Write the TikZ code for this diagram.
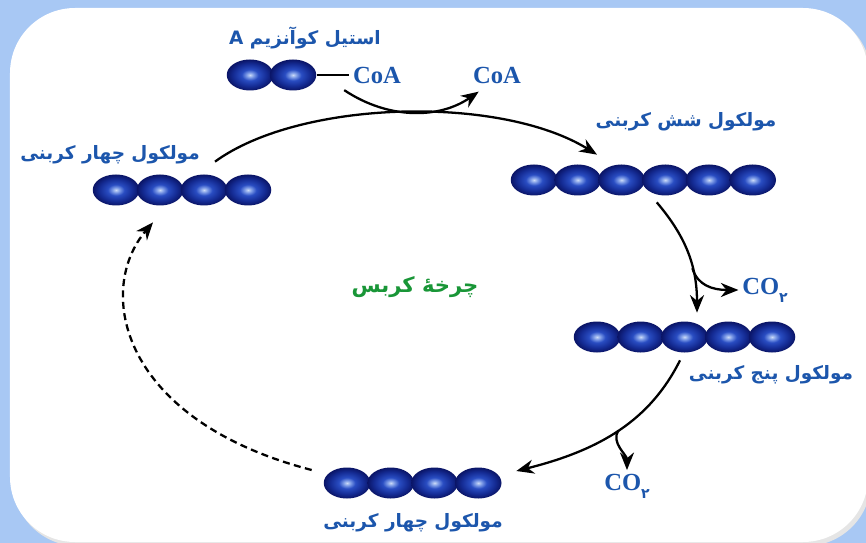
\documentclass[tikz,border=0pt]{standalone}
\usepackage{fontspec}
\usepackage{xcolor}
\usepackage{tikz}
\usetikzlibrary{shapes.geometric, arrows.meta}
\TeXXeTstate=1
\newfontfamily\fafont[Script=Arabic]{DejaVu Sans}
\newfontfamily\lsfont{Liberation Serif}

\definecolor{bgblue}{RGB}{168,200,244}
\definecolor{lblblue}{RGB}{28,86,172}
\definecolor{lblgreen}{RGB}{25,150,55}

\pgfdeclareradialshading{atomball}{\pgfpoint{0bp}{0bp}}{%
    rgb(0bp)=(0.80,0.86,0.97); rgb(4bp)=(0.48,0.60,0.90);
    rgb(9bp)=(0.16,0.30,0.76); rgb(18bp)=(0.08,0.17,0.58);
    rgb(25bp)=(0.04,0.08,0.40); rgb(50bp)=(0.04,0.08,0.40)}

\newcommand{\cotwo}{CO\raisebox{-0.7ex}{\fafont\bfseries\fontsize{8}{8}\selectfont ۲}}

\begin{document}
\begin{tikzpicture}[
    atom/.style = {
        ellipse, shading=atomball,
        minimum width=0.93cm, minimum height=0.62cm, inner sep=0pt
    },
    falbl/.style = {
        font=\fontsize{10.5}{13}\selectfont\fafont\bfseries,
        text=lblblue, inner sep=1pt
    },
    cycle/.style = {
        font=\fontsize{12}{15}\selectfont\fafont\bfseries,
        text=lblgreen, inner sep=1pt
    },
    coa/.style = {
        font=\fontsize{14}{16}\selectfont\lsfont\bfseries,
        text=lblblue, inner sep=2pt
    },
    arr/.style = {->, >={Stealth[length=10pt, width=8pt]}, line width=1.3pt}
]

%% ---- BACKGROUND ----
\fill[bgblue] (0,0) rectangle (17.32,-10.86);
\useasboundingbox (0,0) rectangle (17.32,-10.86);
\fill[black!10, rounded corners=1.3cm] (0.26,-0.22) rectangle (17.42,-10.92);
\fill[white, rounded corners=1.3cm] (0.2,-0.16) rectangle (17.36,-10.84);

%% ---- ACETYL COA ----
\node[falbl] (acl) at (6.1,-0.76) {\beginR استیل کوآنزیم \beginL A\endL\endR};
\node[atom] (a1) at (5.00,-1.50) {};
\node[atom] (a2) at (5.86,-1.50) {};
\node[coa] (coa1) at (7.54,-1.50) {CoA};
\node[coa] (coa2) at (9.94,-1.50) {CoA};
\draw[line width=1pt] (a2.east) -- (coa1.west);

%% ---- FOUR CARBON (TOP) ----
\node[falbl] (l4a) at (2.2,-3.1) {\beginR مولکول چهار کربنی\endR};
\node[atom] (u1) at (2.32,-3.80) {};
\node[atom] (u2) at (3.20,-3.80) {};
\node[atom] (u3) at (4.08,-3.80) {};
\node[atom] (u4) at (4.96,-3.80) {};

%% ---- SIX CARBON ----
\node[falbl] (l6) at (13.72,-2.44) {\beginR مولکول شش کربنی\endR};
\node[atom] (s1) at (10.680,-3.60) {};
\node[atom] (s2) at (11.555,-3.60) {};
\node[atom] (s3) at (12.430,-3.60) {};
\node[atom] (s4) at (13.305,-3.60) {};
\node[atom] (s5) at (14.180,-3.60) {};
\node[atom] (s6) at (15.055,-3.60) {};

%% ---- FIVE CARBON ----
\node[atom] (f1) at (11.940,-6.74) {};
\node[atom] (f2) at (12.815,-6.74) {};
\node[atom] (f3) at (13.690,-6.74) {};
\node[atom] (f4) at (14.565,-6.74) {};
\node[atom] (f5) at (15.440,-6.74) {};
\node[falbl] (l5) at (15.42,-7.5) {\beginR مولکول پنج کربنی\endR};

%% ---- FOUR CARBON (BOTTOM) ----
\node[atom] (b1) at (6.940,-9.66) {};
\node[atom] (b2) at (7.815,-9.66) {};
\node[atom] (b3) at (8.690,-9.66) {};
\node[atom] (b4) at (9.565,-9.66) {};
\node[falbl] (l4b) at (8.26,-10.46) {\beginR مولکول چهار کربنی\endR};

%% ---- CO2 + TITLE ----
\node[coa] (co2a) at (15.30,-5.80) {\cotwo};
\node[coa] (co2b) at (12.54,-9.72) {\cotwo};
\node[cycle] (ttl) at (8.3,-5.74) {\beginR چرخهٔ کربس\endR};

%% ---- ARROWS ----
\draw[arr] ([shift={(0.22,0.25)}]u3.north)
    .. controls +(1.7,1.24) and +(-1.94,1.2) .. ([shift={(0.385,0.19)}]s2.north);
\draw[arr] ([shift={(-0.1,-0.06)}]coa1.south west)
    .. controls +(0.9,-0.6) and +(-0.78,-0.54) .. ([shift={(0.19,-0.09)}]coa2.south west);

\draw[arr] ([shift={(-0.17,-0.13)}]s4.south)
    .. controls +(0.56,-0.66) and +(0,0.96) .. ([shift={(0.25,0.17)}]f3.north)
    coordinate[pos=0.65] (k1);
\draw[arr] (k1) .. controls +(0.1,-0.34) and +(-0.52,0) .. (co2a.west);

\draw[arr] ([shift={(-0.09,-0.15)}]f3.south)
    .. controls +(-0.6,-1.2) and +(1.68,0.42) .. ([shift={(0.29,0.24)}]b4.east)
    coordinate[pos=0.5] (k2);
\draw[arr] (k2) .. controls +(-0.16,-0.24) and +(0,0.3) .. (co2b.north);

\draw[arr, dash pattern=on 4pt off 2.5pt] ([shift={(-0.235,0.26)}]b1.west)
    .. controls +(-3.84,1.0) and +(-1.16,-1.36) .. ([shift={(-0.14,-0.33)}]u2.south);

\end{tikzpicture}
\end{document}
